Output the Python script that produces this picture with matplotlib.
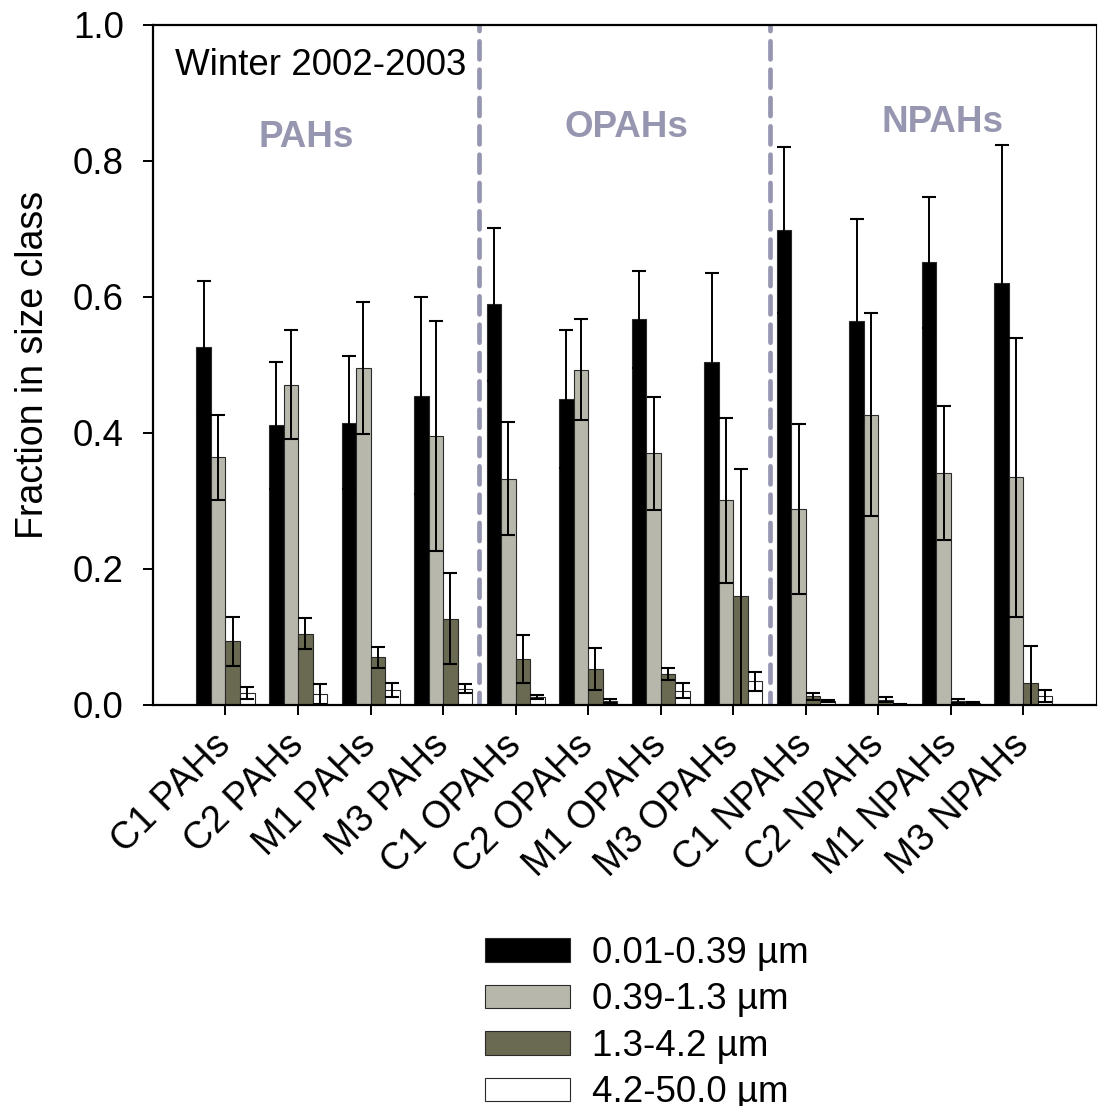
import matplotlib
matplotlib.use("Agg")
import numpy as np
from matplotlib import pyplot

pyplot.rcParams["font.family"] = ["Liberation Sans", "DejaVu Sans"]
pyplot.rcParams["lines.scale_dashes"] = False

# data
samples = ["C1 PAHs", "C2 PAHs", "M1 PAHs", "M3 PAHs",
           "C1 OPAHs", "C2 OPAHs", "M1 OPAHs", "M3 OPAHs",
           "C1 NPAHs", "C2 NPAHs", "M1 NPAHs", "M3 NPAHs"]
size_classes = ["0.01-0.39 µm", "0.39-1.3 µm", "1.3-4.2 µm", "4.2-50.0 µm"]

fine = [0.526, 0.411, 0.415, 0.455, 0.589, 0.450, 0.567, 0.505,
        0.699, 0.565, 0.651, 0.621]
fine_err = [0.098, 0.093, 0.098, 0.145, 0.112, 0.102, 0.071, 0.130,
            0.122, 0.149, 0.096, 0.202]
accum = [0.364, 0.471, 0.496, 0.396, 0.333, 0.493, 0.370, 0.301,
         0.288, 0.427, 0.341, 0.335]
accum_err = [0.063, 0.080, 0.097, 0.169, 0.083, 0.074, 0.083, 0.121,
             0.125, 0.149, 0.098, 0.205]
coarse = [0.094, 0.105, 0.070, 0.127, 0.068, 0.053, 0.045, 0.160,
          0.013, 0.008, 0.006, 0.033]
coarse_err = [0.036, 0.023, 0.015, 0.067, 0.035, 0.031, 0.009, 0.187,
              0.005, 0.003, 0.003, 0.054]
large = [0.018, 0.016, 0.022, 0.024, 0.012, 0.006, 0.021, 0.035,
         0.006, 0.001, 0.003, 0.013]
large_err = [0.009, 0.015, 0.010, 0.007, 0.003, 0.003, 0.011, 0.014,
             0.002, 0.001, 0.001, 0.009]

groups = ["PAHs", "OPAHs", "NPAHs"]
group_label_x = [1.11, 5.52, 9.88]
group_label_y = [0.835, 0.849, 0.856]
dividers = [3.5, 7.5]

colors = ["#000000", "#b7b7ab", "#6a6a52", "#ffffff"]
accent = "#9696b0"
fs = 26.5

figure = pyplot.figure(figsize=(10.98, 11.06), dpi=100)
axis = figure.add_axes([0.1393, 0.3626, 0.9982 - 0.1393, 0.9774 - 0.3626])

x = np.arange(len(samples))
width = 0.2
series = [(fine, fine_err), (accum, accum_err), (coarse, coarse_err),
          (large, large_err)]
for i, (vals, errs) in enumerate(series):
    pos = x + (i - 1.5) * width
    axis.bar(pos, vals, width, color=colors[i], edgecolor="#2a2a2a",
             linewidth=0.8, label=size_classes[i], zorder=2)
    axis.errorbar(pos, vals, yerr=errs, fmt="none", ecolor="black",
                  elinewidth=1.4, capsize=5, capthick=1.5, zorder=3)

for d in dividers:
    axis.axvline(d, color=accent, linewidth=3.4, linestyle=(4, (13, 7.4)),
                 dash_capstyle="round", zorder=1)

for name, gx, gy in zip(groups, group_label_x, group_label_y):
    axis.text(gx, gy, name, color=accent, fontsize=fs, fontweight="bold",
              ha="center", va="center")
axis.text(-0.70, 0.941, "Winter 2002-2003", fontsize=fs, ha="left",
          va="center")

axis.set_xlim(-1.0, 12.0)
axis.set_ylim(0, 1.0)
axis.set_xticks(x)
axis.set_xticklabels(samples, rotation=45, ha="right", va="center",
                     rotation_mode="anchor", fontsize=27)
axis.set_yticks(np.arange(0, 1.01, 0.2))
axis.set_yticklabels([f"{v:.1f}" for v in np.arange(0, 1.01, 0.2)],
                     fontsize=fs)
axis.tick_params(axis="x", length=7, width=1.4, pad=18)
axis.tick_params(axis="y", length=7, width=1.4, pad=14)
axis.set_ylabel("Fraction in size class", fontsize=27, labelpad=16)
for side in ["left", "bottom", "top"]:
    axis.spines[side].set_linewidth(1.6)
axis.spines["right"].set_linewidth(0.8)

handles, labels = axis.get_legend_handles_labels()
figure.legend(handles, labels, loc="upper left",
              bbox_to_anchor=(485 / 1098, 1 - 936 / 1106),
              frameon=False, fontsize=fs, borderpad=0, borderaxespad=0,
              handlelength=2.31, handleheight=0.6, handletextpad=0.6,
              labelspacing=0.31)

figure.savefig("out.png", dpi=100)
